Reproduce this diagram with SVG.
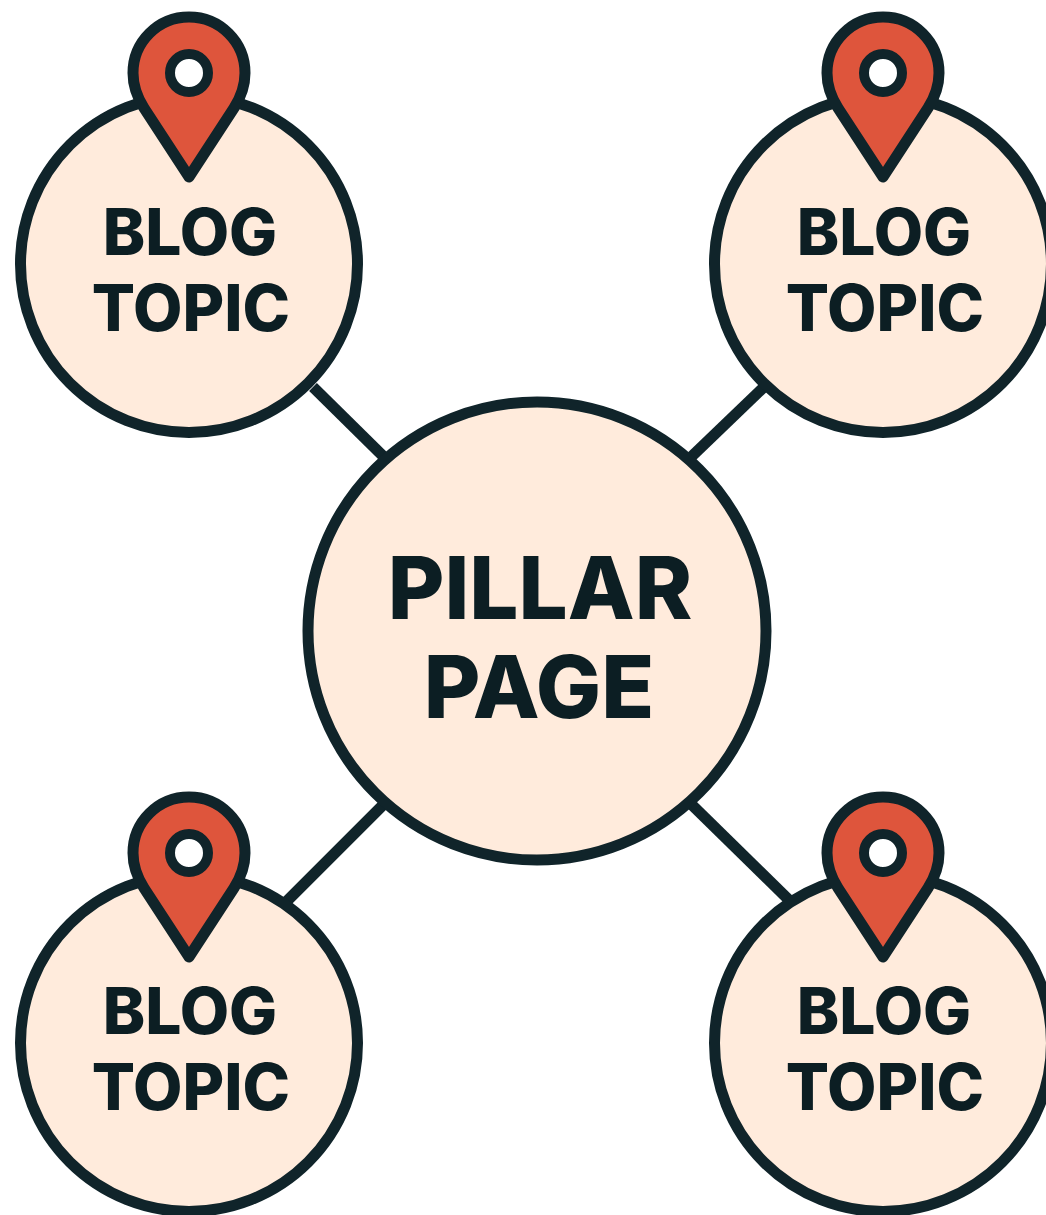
<svg xmlns="http://www.w3.org/2000/svg" width="1046" height="1215" viewBox="0 0 1046 1215">
<style>
.n{fill:#ffebdc;stroke:#10242a;stroke-width:11}
.c{stroke:#10242a;stroke-width:11;fill:none}
.t{font-family:Inter,"Liberation Sans",sans-serif;font-weight:800;fill:#0c1e23;text-anchor:middle}
.b{font-size:64px}
.p{font-size:87px}
.pin{fill:#de553c;stroke:#10242a;stroke-width:11;stroke-linejoin:round}
.h{fill:#fff;stroke:#10242a;stroke-width:10}
</style>
<defs>
<g id="pin">
<path class="pin" d="M0 104 L-45 35 C-52 24 -56 12 -56 0 C-56 -31 -31 -56 0 -56 C31 -56 56 -31 56 0 C56 12 52 24 45 35 Z"/>
<circle class="h" cx="0" cy="0" r="19"/>
</g>
</defs>
<rect width="1046" height="1215" fill="#fff"/>
<g id="connectors">
<path class="c" d="M313 387L386 459"/>
<path class="c" d="M764 387L689 459"/>
<path class="c" d="M285 903L386 802"/>
<path class="c" d="M790 901L689 802"/>
</g>
<g id="pillar"><circle class="n" cx="537" cy="631" r="229"/>
<text class="t p" x="540" y="619">PILLAR</text><text class="t p" x="539" y="718">PAGE</text></g>
<g id="blog-tl"><circle class="n" cx="189" cy="264" r="168.5"/>
<text class="t b" x="190" y="255">BLOG</text><text class="t b" x="191" y="331">TOPIC</text>
<use href="#pin" x="189" y="73"/></g>
<g id="blog-tr"><circle class="n" cx="883" cy="264" r="168.5"/>
<text class="t b" x="884" y="255">BLOG</text><text class="t b" x="885" y="331">TOPIC</text>
<use href="#pin" x="883" y="73"/></g>
<g id="blog-bl"><circle class="n" cx="189" cy="1043" r="168.5"/>
<text class="t b" x="190" y="1034">BLOG</text><text class="t b" x="191" y="1110">TOPIC</text>
<use href="#pin" x="189" y="853"/></g>
<g id="blog-br"><circle class="n" cx="883" cy="1043" r="168.5"/>
<text class="t b" x="884" y="1034">BLOG</text><text class="t b" x="885" y="1110">TOPIC</text>
<use href="#pin" x="883" y="853"/></g>
</svg>
